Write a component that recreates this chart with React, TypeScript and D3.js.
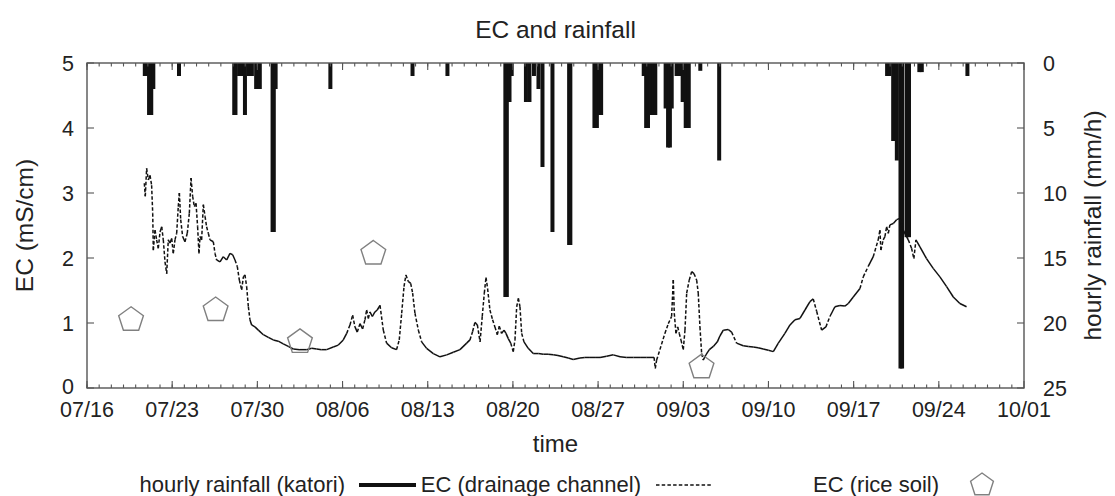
import React from "react";
import * as d3 from "d3";

// ---------- data ----------
const startLabel = "2010/07/16";
const endLabel = "2010/10/01";
const xTickLabels = ["07/16", "07/23", "07/30", "08/06", "08/13", "08/20", "08/27", "09/03", "09/10", "09/17", "09/24", "10/01"];
const ecTicks = [0, 1, 2, 3, 4, 5];
const rainTicks = [0, 5, 10, 15, 20, 25];

// hourly rainfall (katori): [days since 07/16, mm/h]
const rainfall: [number, number][] = [
  [4.75, 1], [4.95, 1], [5.1, 4], [5.28, 4], [5.45, 2],
  [7.56, 1],
  [12.1, 4], [12.2, 4], [12.5, 1], [12.7, 1], [12.98, 4], [13.3, 1], [13.55, 1], [13.9, 2], [14.2, 2],
  [15.25, 13], [15.35, 13], [15.5, 2],
  [20.0, 2],
  [26.75, 1],
  [29.62, 1],
  [34.38, 18], [34.5, 18], [34.72, 3], [34.9, 1],
  [36.07, 3], [36.36, 3], [36.73, 1], [37.1, 2], [37.43, 8],
  [38.25, 13],
  [39.62, 14], [39.72, 14],
  [41.7, 5], [41.9, 5], [42.1, 4], [42.25, 4],
  [45.75, 1], [45.95, 5], [46.1, 5], [46.4, 4], [46.55, 4], [46.7, 4],
  [47.55, 3.5], [47.75, 6.5], [47.9, 6.5], [48.05, 3.5],
  [48.45, 1], [48.7, 1], [48.95, 3], [49.2, 5], [49.45, 5],
  [50.4, 0.6],
  [51.95, 7.5],
  [65.75, 1], [65.95, 1],
  [66.25, 6], [66.55, 7.5], [66.85, 23.5], [66.98, 23.5], [67.35, 13.4], [67.55, 13.4],
  [68.4, 0.7], [68.6, 0.7],
  [72.35, 1],
];

// EC (drainage channel): [days since 07/16, mS/cm]
const ecChannel: [number, number][] = [
  [4.71, 3.15], [4.79, 2.95], [4.9, 3.38], [5.04, 3.2], [5.18, 3.27], [5.31, 3.12], [5.4, 2.69], [5.45, 2.12],
  [5.59, 2.43], [5.72, 2.28], [5.86, 2.15], [6.0, 2.4], [6.14, 2.48], [6.27, 2.28], [6.41, 1.94], [6.55, 1.76],
  [6.68, 2.28], [6.82, 2.23], [6.96, 2.3], [7.09, 2.07], [7.23, 2.28], [7.37, 2.38], [7.5, 2.79], [7.59, 3.0],
  [7.7, 2.59], [7.86, 2.33], [8.05, 2.25], [8.24, 2.38], [8.41, 2.69], [8.55, 3.23], [8.68, 2.95], [8.82, 2.79],
  [8.96, 2.84], [9.09, 2.48], [9.2, 2.07], [9.29, 2.33], [9.42, 2.28], [9.56, 2.82], [9.7, 2.64], [9.83, 2.48],
  [9.97, 2.38], [10.11, 2.28], [10.38, 2.25], [10.52, 2.07], [10.65, 1.97], [10.93, 1.94], [11.2, 2.02],
  [11.48, 1.97], [11.75, 2.07], [11.97, 2.05], [12.16, 1.97], [12.35, 1.87], [12.52, 1.66], [12.71, 1.51],
  [12.85, 1.71], [12.98, 1.74], [13.12, 1.56], [13.26, 1.25], [13.39, 1.05], [13.53, 0.97], [13.8, 0.94],
  [14.08, 0.89], [14.49, 0.82], [14.9, 0.78], [15.31, 0.74], [15.72, 0.72], [16.13, 0.68], [16.54, 0.64],
  [16.95, 0.6], [17.5, 0.59], [18.05, 0.59], [18.46, 0.61], [18.87, 0.6], [19.28, 0.59], [19.69, 0.59],
  [20.24, 0.63], [20.65, 0.66], [21.06, 0.74], [21.34, 0.84], [21.61, 0.97], [21.83, 1.12], [22.02, 0.94],
  [22.21, 0.86], [22.43, 0.99], [22.65, 0.91], [22.84, 1.05], [22.98, 1.2], [23.12, 1.07], [23.25, 1.17],
  [23.45, 1.1], [23.66, 1.17], [23.85, 1.2], [24.08, 1.27],
  [24.35, 0.89], [24.62, 0.69], [25.03, 0.62], [25.44, 0.59], [25.66, 0.74], [25.86, 1.15], [26.05, 1.56],
  [26.21, 1.74], [26.4, 1.64], [26.6, 1.61], [26.76, 1.46], [26.95, 1.15], [27.23, 0.89], [27.5, 0.71],
  [27.91, 0.61], [28.46, 0.53], [29.01, 0.48], [29.56, 0.51], [30.1, 0.55], [30.65, 0.59], [31.2, 0.69],
  [31.47, 0.74], [31.69, 0.87], [31.88, 1.01], [32.08, 0.97], [32.3, 0.71], [32.48, 1.1], [32.65, 1.46],
  [32.79, 1.7], [32.92, 1.53], [33.11, 1.2], [33.33, 1.05], [33.52, 0.94], [33.72, 0.82], [33.88, 0.95],
  [34.07, 0.84], [34.27, 0.89], [34.43, 0.84], [34.62, 0.76], [34.82, 0.69], [35.03, 0.56], [35.17, 0.74],
  [35.31, 1.25], [35.45, 1.38], [35.58, 1.25], [35.72, 0.84], [35.91, 0.71], [36.26, 0.61], [36.67, 0.53],
  [37.1, 0.53], [37.5, 0.52], [37.9, 0.52], [38.32, 0.51], [38.7, 0.5], [39.14, 0.48], [39.55, 0.46],
  [39.96, 0.44], [40.51, 0.46], [40.9, 0.47], [41.33, 0.47], [41.75, 0.47], [42.16, 0.47], [42.7, 0.49],
  [43.25, 0.51], [43.8, 0.48], [44.35, 0.47], [44.9, 0.47], [45.45, 0.47], [46.0, 0.47], [46.6, 0.47],
  [46.7, 0.3], [46.81, 0.43], [47.08, 0.59], [47.49, 0.84], [47.77, 0.99], [48.04, 1.1], [48.18, 1.66],
  [48.26, 1.15], [48.4, 0.84], [48.54, 0.94], [48.67, 0.84], [48.81, 0.74], [49.0, 0.59], [49.14, 0.89],
  [49.28, 1.46], [49.49, 1.66], [49.69, 1.79], [49.88, 1.76], [50.1, 1.66], [50.23, 1.46], [50.37, 0.94],
  [50.51, 0.53], [50.64, 0.43], [50.86, 0.51], [51.14, 0.59], [51.47, 0.64], [51.8, 0.71],
  [52.01, 0.8], [52.29, 0.89], [52.7, 0.9], [52.97, 0.86], [53.38, 0.69], [53.93, 0.65], [54.35, 0.64],
  [54.75, 0.63], [55.15, 0.62], [55.57, 0.6], [56.0, 0.58], [56.4, 0.56], [56.81, 0.69], [57.35, 0.84],
  [57.77, 0.97], [58.18, 1.05], [58.59, 1.07], [59.0, 1.2], [59.41, 1.33], [59.68, 1.37], [59.96, 1.18],
  [60.37, 0.89], [60.72, 0.94], [61.05, 1.1], [61.46, 1.25], [61.87, 1.27], [62.28, 1.26], [62.56, 1.3],
  [62.97, 1.4], [63.52, 1.53], [63.79, 1.71], [64.2, 1.87], [64.61, 2.02], [65.02, 2.28], [65.16, 2.43],
  [65.24, 2.12], [65.43, 2.28], [65.57, 2.33], [65.71, 2.48], [65.85, 2.38], [65.98, 2.51], [66.26, 2.53],
  [66.53, 2.59], [66.8, 2.61], [67.08, 2.43], [67.49, 2.28], [67.76, 2.15], [67.95, 1.99], [68.12, 2.28],
  [68.45, 2.17], [68.99, 1.99], [69.54, 1.84], [70.09, 1.71], [70.64, 1.56], [71.19, 1.4], [71.73, 1.3],
  [72.28, 1.25],
];

// EC (rice soil): [days since 07/16, mS/cm]
const ecSoil: [number, number][] = [
  [3.62, 1.05],
  [10.57, 1.2],
  [17.5, 0.71],
  [23.53, 2.07],
  [50.5, 0.32],
];

const legendLabels = ["hourly rainfall (katori)", "EC (drainage channel)", "EC (rice soil)"];

// ---------- layout ----------
const W = 1115;
const H = 496;
const M = { left: 87, right: 91, top: 63, bottom: 108 };
const FONT = "'Liberation Sans', Arial, Helvetica, sans-serif";
const TEXT = "#222";
const AXIS = "#555";

const parse = d3.utcParse("%Y/%m/%d");
const start = parse(startLabel) as Date;
const end = parse(endLabel) as Date;
const dayToDate = (d: number) => new Date(start.getTime() + d * 864e5);

function pentagon(cx: number, cy: number, r: number) {
  const pts = d3.range(5).map((i) => {
    const a = -Math.PI / 2 + (i * 2 * Math.PI) / 5;
    return [cx + r * Math.cos(a), cy + r * Math.sin(a)];
  });
  return "M" + pts.map((p) => p.join(",")).join("L") + "Z";
}

export default function App() {
  const x = d3.scaleUtc().domain([start, end]).range([M.left, W - M.right]);
  const yL = d3.scaleLinear().domain([0, 5]).range([H - M.bottom, M.top]);
  const yR = d3.scaleLinear().domain([0, 25]).range([M.top, H - M.bottom]);
  const x0 = M.left, x1 = W - M.right, y0 = M.top, y1 = H - M.bottom;

  const majorDates = xTickLabels.map((l) => parse("2010/" + l) as Date);
  const minorDates = d3.utcDay.range(start, end);

  const pts = ecChannel.map(([d, v]) => [x(dayToDate(d)), yL(v)] as [number, number]);
  const segs = pts.slice(1).map((p, i) => ({ a: pts[i], b: p }));

  const barW = 4;

  return (
    <svg width={W} height={H} style={{ position: "absolute", left: 0, top: 0, background: "#fff" }} fontFamily={FONT}>
      {/* title */}
      <text x={(x0 + x1) / 2} y={38} textAnchor="middle" fontSize={24.5} fill={TEXT}>EC and rainfall</text>

      {/* rainfall bars */}
      <g fill="#111">
        {rainfall.map(([d, mm], i) => (
          <rect key={i} x={x(dayToDate(d)) - barW / 2} y={yR(0)} width={barW} height={yR(mm) - yR(0)} />
        ))}
      </g>

      {/* EC line: segment-wise dash like gnuplot (steep segments show dashes) */}
      <g stroke="#111" strokeWidth={1.5} fill="none" strokeLinecap="butt">
        {segs.map((s, i) => {
          const dy = Math.abs(s.b[1] - s.a[1]);
          const dx = Math.abs(s.b[0] - s.a[0]);
          const dashed = dy > 6 && dy > 2 * dx;
          return (
            <line key={i} x1={s.a[0]} y1={s.a[1]} x2={s.b[0]} y2={s.b[1]}
              strokeDasharray={dashed ? "3.5,2" : undefined} />
          );
        })}
      </g>

      {/* soil EC pentagons */}
      <g fill="none" stroke="#808080" strokeWidth={1.4}>
        {ecSoil.map(([d, v], i) => (
          <path key={i} d={pentagon(x(dayToDate(d)), yL(v), 13)} />
        ))}
      </g>

      {/* frame */}
      <rect x={x0} y={y0} width={x1 - x0} height={y1 - y0} fill="none" stroke={AXIS} strokeWidth={1.4} />

      {/* ticks */}
      <g stroke={AXIS} strokeWidth={1.1}>
        {minorDates.map((dt, i) => (
          <g key={i}>
            <line x1={x(dt)} x2={x(dt)} y1={y1} y2={y1 - 3.5} />
            <line x1={x(dt)} x2={x(dt)} y1={y0} y2={y0 + 3.5} />
          </g>
        ))}
        {majorDates.map((dt, i) => (
          <g key={"M" + i}>
            <line x1={x(dt)} x2={x(dt)} y1={y1} y2={y1 - 7} />
            <line x1={x(dt)} x2={x(dt)} y1={y0} y2={y0 + 7} />
          </g>
        ))}
        {ecTicks.map((t) => (
          <line key={"L" + t} x1={x0} x2={x0 + 7} y1={yL(t)} y2={yL(t)} />
        ))}
        {rainTicks.map((t) => (
          <line key={"R" + t} x1={x1} x2={x1 - 7} y1={yR(t)} y2={yR(t)} />
        ))}
      </g>

      {/* tick labels */}
      <g fontSize={21.5} fill={TEXT}>
        {majorDates.map((dt, i) => (
          <text key={i} x={x(dt)} y={417} textAnchor="middle">{xTickLabels[i]}</text>
        ))}
        {ecTicks.map((t) => (
          <text key={"l" + t} x={74} y={yL(t)} dy={t === 0 ? "0.3em" : "0.36em"} textAnchor="end">{t}</text>
        ))}
        {rainTicks.map((t) => (
          <text key={"r" + t} x={1043} y={yR(t)} dy="0.36em" textAnchor="start">{t}</text>
        ))}
      </g>

      {/* axis titles */}
      <text x={(x0 + x1) / 2} y={452} textAnchor="middle" fontSize={24} fill={TEXT}>time</text>
      <text transform={`translate(32.5,${(y0 + y1) / 2}) rotate(-90)`} textAnchor="middle" fontSize={24.5} fill={TEXT}>EC (mS/cm)</text>
      <text transform={`translate(1101,${(y0 + y1) / 2}) rotate(-90)`} textAnchor="middle" fontSize={24.5} fill={TEXT}>hourly rainfall (mm/h)</text>

      {/* legend */}
      <g fontSize={22} fill={TEXT}>
        <text x={345} y={492} textAnchor="end">{legendLabels[0]}</text>
        <line x1={359} x2={416} y1={485} y2={485} stroke="#111" strokeWidth={4} />
        <text x={641} y={492} textAnchor="end">{legendLabels[1]}</text>
        <line x1={656} x2={713} y1={485} y2={485} stroke="#111" strokeWidth={1.3} strokeDasharray="3.5,2.2" />
        <text x={939} y={492} textAnchor="end">{legendLabels[2]}</text>
        <path d={pentagon(982, 485, 12)} fill="none" stroke="#808080" strokeWidth={1.4} />
      </g>
    </svg>
  );
}
